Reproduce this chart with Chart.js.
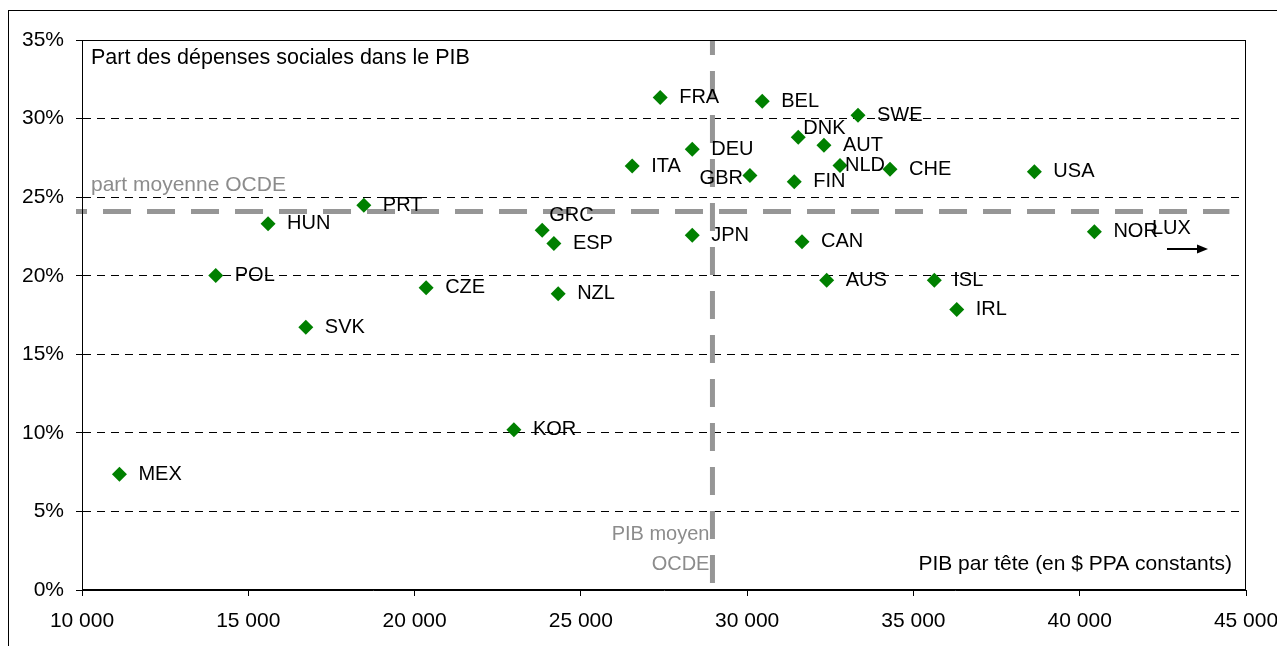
<!DOCTYPE html>
<html>
<head>
<meta charset="utf-8">
<script src="https://cdn.jsdelivr.net/npm/chart.js@4.4.1/dist/chart.umd.min.js"></script>
<style>
  html, body { margin: 0; padding: 0; background: #fff; }
  #wrap { width: 1277px; height: 646px; position: relative; }
</style>
</head>
<body>
<div id="wrap"><canvas id="chart"></canvas></div>
<script>
// OCDE countries: GDP per head (constant $ PPP) vs social spending share of GDP
const countries = ['MEX', 'POL', 'HUN', 'SVK', 'PRT', 'CZE', 'KOR', 'GRC', 'ESP', 'NZL',
    'ITA', 'FRA', 'DEU', 'JPN', 'GBR', 'BEL', 'FIN', 'DNK', 'CAN', 'AUT',
    'NLD', 'SWE', 'CHE', 'AUS', 'ISL', 'IRL', 'USA', 'NOR'];
const gdpPerHead = [11125, 14022, 15595, 16729, 18474, 20348, 22986, 23837, 24189, 24318,
    26544, 27386, 28349, 28349, 30084, 30454, 31417, 31537, 31649, 32310,
    32792, 33333, 34296, 32392, 35628, 36302, 38636, 40441];
const socialShare = [7.37, 20.01, 23.31, 16.72, 24.49, 19.23, 10.20, 22.90, 22.05, 18.85,
    26.98, 31.34, 28.04, 22.58, 26.37, 31.10, 25.98, 28.81, 22.16, 28.30,
    27.02, 30.21, 26.77, 19.71, 19.71, 17.85, 26.62, 22.80];

// OCDE averages
const avgGdp = 28957;
const avgShare = 24.09;

// off-scale country (GDP beyond the axis), shown with an arrow
const offScaleLabel = 'LUX';
const offScaleShare = 21.7;

const xTicks = [10000, 15000, 20000, 25000, 30000, 35000, 40000, 45000];
const yTicks = [0, 5, 10, 15, 20, 25, 30, 35];

// label placement around each marker (default: right of the point)
const labelPlace = {
    GRC: { dx: 7, dy: -15, align: 'left' },
    GBR: { dx: -7, dy: 3, align: 'right' },
    DNK: { dx: 5, dy: -9, align: 'left' },
    NLD: { dx: 5, dy: 0, align: 'left' }
};

const GREEN = '#008000';
const GREY = '#969696';
const FONT = "'Liberation Sans', Arial, sans-serif";

Chart.defaults.font.family = FONT;
Chart.defaults.font.size = 21;
Chart.defaults.color = '#000';

const points = countries.map((c, i) => ({ x: gdpPerHead[i], y: socialShare[i] }));

function fmtThousands(v) {
    return String(v).replace(/\B(?=(\d{3})+(?!\d))/g, ' ');
}

const annotations = {
    id: 'annotations',
    beforeDraw(chart) {
        const ctx = chart.ctx;
        ctx.save();
        ctx.strokeStyle = '#000';
        ctx.lineWidth = 1;
        ctx.strokeRect(8.5, 10.5, 1400, 1000);
        ctx.restore();
    },
    afterDatasetsDraw(chart) {
        const ctx = chart.ctx;
        const area = chart.chartArea;
        const xs = chart.scales.x;
        const ys = chart.scales.y;
        const meta = chart.getDatasetMeta(0);

        ctx.save();
        ctx.font = '20px ' + FONT;
        ctx.textBaseline = 'middle';
        ctx.fillStyle = '#000';

        // country codes
        meta.data.forEach((pt, i) => {
            const p = labelPlace[countries[i]] || { dx: 19, dy: 0, align: 'left' };
            ctx.textAlign = p.align;
            ctx.fillText(countries[i], pt.x + p.dx, pt.y + p.dy);
        });

        // LUX, off the scale
        const ly = ys.getPixelForValue(offScaleShare);
        ctx.textAlign = 'left';
        ctx.fillText(offScaleLabel, area.right - 94, ly - 21);
        ctx.strokeStyle = '#000';
        ctx.lineWidth = 2;
        ctx.beginPath();
        ctx.moveTo(area.right - 79, ly);
        ctx.lineTo(area.right - 47, ly);
        ctx.stroke();
        ctx.beginPath();
        ctx.moveTo(area.right - 38, ly);
        ctx.lineTo(area.right - 49, ly - 4.5);
        ctx.lineTo(area.right - 49, ly + 4.5);
        ctx.closePath();
        ctx.fillStyle = '#000';
        ctx.fill();

        // texts in the plot
        ctx.font = '21.5px ' + FONT;
        ctx.fillStyle = '#000';
        ctx.textAlign = 'left';
        ctx.fillText('Part des dépenses sociales dans le PIB', area.left + 9, area.top + 18);
        ctx.font = '21px ' + FONT;
        ctx.textAlign = 'right';
        ctx.fillText('PIB par tête (en $ PPA constants)', area.right - 14, area.bottom - 26);

        ctx.fillStyle = '#8c8c8c';
        ctx.textAlign = 'left';
        ctx.fillText('part moyenne OCDE', area.left + 9, ys.getPixelForValue(avgShare) - 26);
        const ax = xs.getPixelForValue(avgGdp);
        ctx.font = '20px ' + FONT;
        ctx.textAlign = 'right';
        ctx.fillText('PIB moyen', ax - 3, area.bottom - 56);
        ctx.fillText('OCDE', ax - 3, area.bottom - 26);

        // plot frame
        ctx.strokeStyle = '#000';
        ctx.lineWidth = 1;
        ctx.strokeRect(Math.round(area.left) + 0.5, Math.round(area.top) + 0.5,
            Math.round(area.right - area.left) - 1, Math.round(area.bottom - area.top) - 1);
        ctx.restore();
    }
};

new Chart(document.getElementById('chart'), {
    type: 'scatter',
    data: {
        datasets: [{
            label: 'pays',
            data: points,
            pointStyle: 'rectRot',
            pointRadius: 7.5,
            pointHoverRadius: 7.5,
            backgroundColor: GREEN,
            borderColor: GREEN,
            borderWidth: 0
        }, {
            label: 'PIB moyen OCDE',
            data: [{ x: avgGdp, y: 35 }, { x: avgGdp, y: 0 }],
            showLine: true,
            pointRadius: 0,
            borderColor: GREY,
            borderWidth: 5,
            borderDash: [28, 16],
            borderDashOffset: 13,
            borderCapStyle: 'butt'
        }, {
            label: 'part moyenne OCDE',
            data: [{ x: 9820, y: avgShare }, { x: 44500, y: avgShare }],
            showLine: true,
            pointRadius: 0,
            borderColor: GREY,
            borderWidth: 5,
            borderDash: [28, 16],
            borderDashOffset: 17,
            borderCapStyle: 'butt',
            clip: false
        }]
    },
    options: {
        responsive: true,
        maintainAspectRatio: false,
        animation: false,
        layout: { padding: { top: 40, right: 31, left: 0, bottom: 0 } },
        plugins: {
            legend: { display: false },
            tooltip: { enabled: false }
        },
        scales: {
            x: {
                type: 'linear',
                min: 10000,
                max: 45000,
                afterBuildTicks: s => { s.ticks = xTicks.map(v => ({ value: v })); },
                afterFit: s => { s.height = 56; s.paddingLeft = 0; s.paddingRight = 0; },
                border: { display: true, color: '#000', width: 1 },
                grid: { drawOnChartArea: false, drawTicks: true, tickLength: 6, tickColor: '#000' },
                ticks: { padding: 13, maxRotation: 0, autoSkip: false, callback: v => fmtThousands(v) }
            },
            y: {
                type: 'linear',
                min: 0,
                max: 35,
                afterBuildTicks: s => { s.ticks = yTicks.map(v => ({ value: v })); },
                afterFit: s => { s.width = 82; s.paddingTop = 0; s.paddingBottom = 0; },
                border: { display: true, color: '#000', width: 1, dash: [8, 6] },
                grid: {
                    color: c => (c.tick && (c.tick.value === 0 || c.tick.value === 35)) ? 'rgba(0,0,0,0)' : '#000',
                    lineWidth: 1,
                    tickLength: 6,
                    tickColor: '#000',
                    tickBorderDash: []
                },
                ticks: { padding: 12, autoSkip: false, callback: v => v + '%' }
            }
        }
    },
    plugins: [annotations]
});
</script>
</body>
</html>
